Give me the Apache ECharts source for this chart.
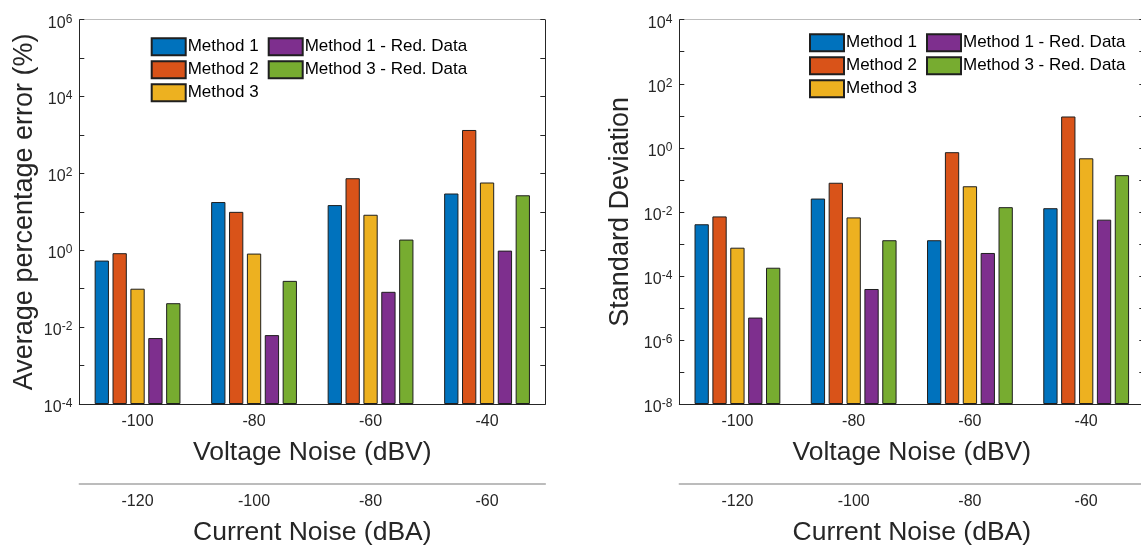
<!DOCTYPE html>
<html>
<head>
<meta charset="utf-8">
<script src="https://cdn.jsdelivr.net/npm/echarts@6/dist/echarts.min.js"></script>
<style>
  html, body { margin: 0; padding: 0; background: #fff; }
  #chart { width: 1141px; height: 548px; }
</style>
</head>
<body>
<div id="chart"></div>
<script>
const voltageNoise = ['-100', '-80', '-60', '-40'];
const currentNoise = ['-120', '-100', '-80', '-60'];
const methodNames = ['Method 1', 'Method 2', 'Method 3', 'Method 1 - Red. Data', 'Method 3 - Red. Data'];
const methodColors = ['#0072BD', '#D95319', '#EDB120', '#7E2F8E', '#77AC30'];

// average percentage error (%)
const errMethod1 = [0.54, 18, 15, 30];
const errMethod2 = [0.84, 10, 75, 1350];
const errMethod3 = [0.10, 0.82, 8.4, 58];
const errMethod1Red = [0.0052, 0.0062, 0.083, 0.98];
const errMethod3Red = [0.042, 0.16, 1.9, 27];

// standard deviation
const stdMethod1 = [0.0041, 0.026, 0.0013, 0.013];
const stdMethod2 = [0.0072, 0.081, 0.73, 9.5];
const stdMethod3 = [0.00076, 0.0067, 0.063, 0.47];
const stdMethod1Red = [5.0e-6, 3.9e-5, 5.2e-4, 0.0057];
const stdMethod3Red = [1.8e-4, 0.0013, 0.014, 0.14];

const errData = [errMethod1, errMethod2, errMethod3, errMethod1Red, errMethod3Red];
const stdData = [stdMethod1, stdMethod2, stdMethod3, stdMethod1Red, stdMethod3Red];

const font = 'Liberation Sans, Arial, Helvetica, sans-serif';
const textColor = '#262626';

function powLabel(v) {
  const e = Math.round(Math.log10(v));
  return e % 2 === 0 ? '{b|10}{s|' + e + '}' : '';
}

function xAxes(grid) {
  return [
    {
      type: 'category', gridIndex: grid, position: 'bottom', data: voltageNoise, z: 10,
      axisLine: { lineStyle: { color: textColor, width: 1 } },
      axisTick: { inside: true, alignWithLabel: true, length: 5, lineStyle: { color: textColor } },
      axisLabel: { fontSize: 16, fontFamily: font, color: textColor, margin: 10 },
      name: 'Voltage Noise (dBV)', nameLocation: 'middle', nameGap: 35,
      nameTextStyle: { fontSize: 26.5, fontFamily: font, color: textColor }
    },
    {
      type: 'category', gridIndex: grid, position: 'top', data: voltageNoise, z: 10,
      axisLine: { lineStyle: { color: '#bdbdbd', width: 1 } },
      axisTick: { inside: true, alignWithLabel: true, length: 5, lineStyle: { color: textColor } },
      axisLabel: { show: false }
    },
    {
      type: 'category', gridIndex: grid, position: 'bottom', offset: 80, data: currentNoise,
      axisLine: { lineStyle: { color: '#a6a6a6', width: 1.5 } },
      axisTick: { inside: true, alignWithLabel: true, length: 5, lineStyle: { color: textColor } },
      axisLabel: { fontSize: 16, fontFamily: font, color: textColor, margin: 10 },
      name: 'Current Noise (dBA)', nameLocation: 'middle', nameGap: 35,
      nameTextStyle: { fontSize: 26.5, fontFamily: font, color: textColor }
    }
  ];
}

function yAxes(grid, min, max, name, nameGap) {
  const base = {
    type: 'log', logBase: 10, gridIndex: grid, min: min, max: max, startValue: min,
    interval: 1, splitNumber: 20, z: 10,
    splitLine: { show: false },
    axisLine: { show: true, lineStyle: { color: textColor, width: 1 } },
    axisTick: { show: true, inside: true, length: 5, lineStyle: { color: textColor } }
  };
  return [
    Object.assign({}, base, {
      position: 'left',
      axisLabel: {
        formatter: powLabel, margin: 7, padding: [7, 0, 0, 0],
        rich: {
          b: { fontSize: 16, fontFamily: font, color: textColor, verticalAlign: 'bottom', lineHeight: 16 },
          s: { fontSize: 12, fontFamily: font, color: textColor, verticalAlign: 'bottom', lineHeight: 12, padding: [0, 0, 6, 0] }
        }
      },
      name: name, nameLocation: 'middle', nameGap: nameGap,
      nameTextStyle: { fontSize: 27, fontFamily: font, color: textColor }
    }),
    Object.assign({}, base, { position: 'right', axisLabel: { show: false } })
  ];
}

function barSeries(grid, values) {
  return values.map((vals, i) => ({
    name: methodNames[i], type: 'bar',
    xAxisIndex: grid * 3, yAxisIndex: grid * 2,
    data: vals,
    barWidth: 14.3, barGap: '25%',
    itemStyle: { color: methodColors[i], borderColor: '#1f1f1f', borderWidth: 1 }
  }));
}

function legendBlock(names, left, top) {
  return {
    data: names, orient: 'vertical', left: left, top: top, padding: 0,
    icon: 'rect', itemWidth: 34, itemHeight: 17, itemGap: 4,
    textStyle: { fontSize: 17, fontFamily: font, color: '#000', padding: [0, 0, 0, -3] }
  };
}

const chart = echarts.init(document.getElementById('chart'));
chart.setOption({
  animation: false,
  backgroundColor: '#fff',
  grid: [
    { left: 79.3, top: 19.7, width: 466, height: 384.3, containLabel: false, outerBoundsMode: 'none' },
    { left: 679.3, top: 19.7, width: 465, height: 384.3, containLabel: false, outerBoundsMode: 'none' }
  ],
  legend: [
    legendBlock(methodNames.slice(0, 3), 150.7, 37.3),
    legendBlock(methodNames.slice(3), 267.7, 37.3),
    legendBlock(methodNames.slice(0, 3), 809, 33.3),
    legendBlock(methodNames.slice(3), 926, 33.3)
  ],
  xAxis: xAxes(0).concat(xAxes(1)),
  yAxis: yAxes(0, 1e-4, 1e6, 'Average percentage error (%)', 41)
    .concat(yAxes(1, 1e-8, 1e4, 'Standard Deviation', 45)),
  series: barSeries(0, errData).concat(barSeries(1, stdData))
});
</script>
</body>
</html>
